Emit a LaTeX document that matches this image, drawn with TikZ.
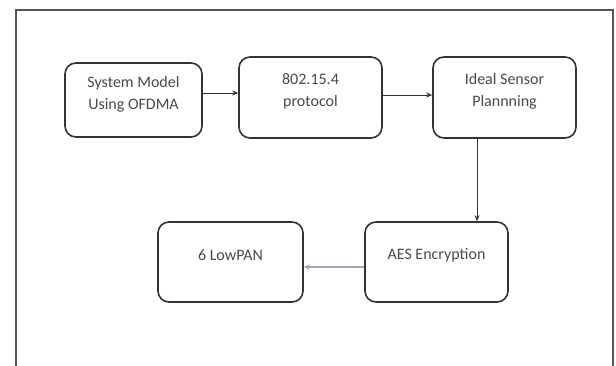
\documentclass[tikz,border=0pt]{standalone}
\usepackage{fontspec}
\setmainfont{Carlito}
\usetikzlibrary{arrows.meta}
\definecolor{edge}{HTML}{333333}
\definecolor{frame}{HTML}{555555}
\definecolor{ink}{HTML}{4A4A4A}
\definecolor{paleflow}{HTML}{9AA8B8}
\tikzset{
  block/.style={draw=edge, line width=1.6pt, rounded corners=11pt, fill=white},
  caption/.style={text=ink, align=center, font=\fontsize{16}{22}\selectfont, inner sep=0pt},
  flow/.style={draw=edge, line width=0.9pt, -{Stealth[length=6pt,width=5pt]}},
  softflow/.style={draw=paleflow, line width=1.2pt, -{Stealth[length=6pt,width=5pt]}}
}
\begin{document}
\begin{tikzpicture}[x=1pt,y=-1pt]
\useasboundingbox (0,0) rectangle (616,365);
% outer frame, open at the bottom
\draw[frame, line width=2pt] (15.5,370) -- (15.5,10) -- (613,10) -- (613,370);

% blocks
\node[block, minimum width=137pt, minimum height=74pt] (sys) at (133.5,100) {};
\node[block, minimum width=143pt, minimum height=81pt] (proto) at (310.5,97.5) {};
\node[block, minimum width=143pt, minimum height=81pt] (sensor) at (504.5,97.5) {};
\node[block, minimum width=143pt, minimum height=80pt] (aes) at (436.5,262) {};
\node[block, minimum width=145pt, minimum height=80pt] (lowpan) at (230.5,262) {};

% captions
\node[caption] (syst) at (133.5,94) {System Model\\Using OFDMA};
\node[caption] (protot) at (310.5,91) {802.15.4\\protocol};
\node[caption] (sensort) at (504.5,91) {Ideal Sensor\\Plannning};
\node[caption] (aest) at (436.5,255) {AES Encryption};
\node[caption] (lowpant) at (230.5,255) {6 LowPAN};

% connectors
\draw[flow] ([yshift=7pt]sys.east) -- ([yshift=7pt]sys.east -| proto.west);
\draw[flow] ([yshift=2.5pt]proto.east) -- ([yshift=2.5pt]proto.east -| sensor.west);
\draw[flow] ([xshift=-27.5pt]sensor.south) -- ([xshift=-27.5pt]sensor.south |- aes.north);
\draw[softflow] ([yshift=-5pt]aes.west) -- ([yshift=-5pt]aes.west -| lowpan.east);
\end{tikzpicture}
\end{document}
